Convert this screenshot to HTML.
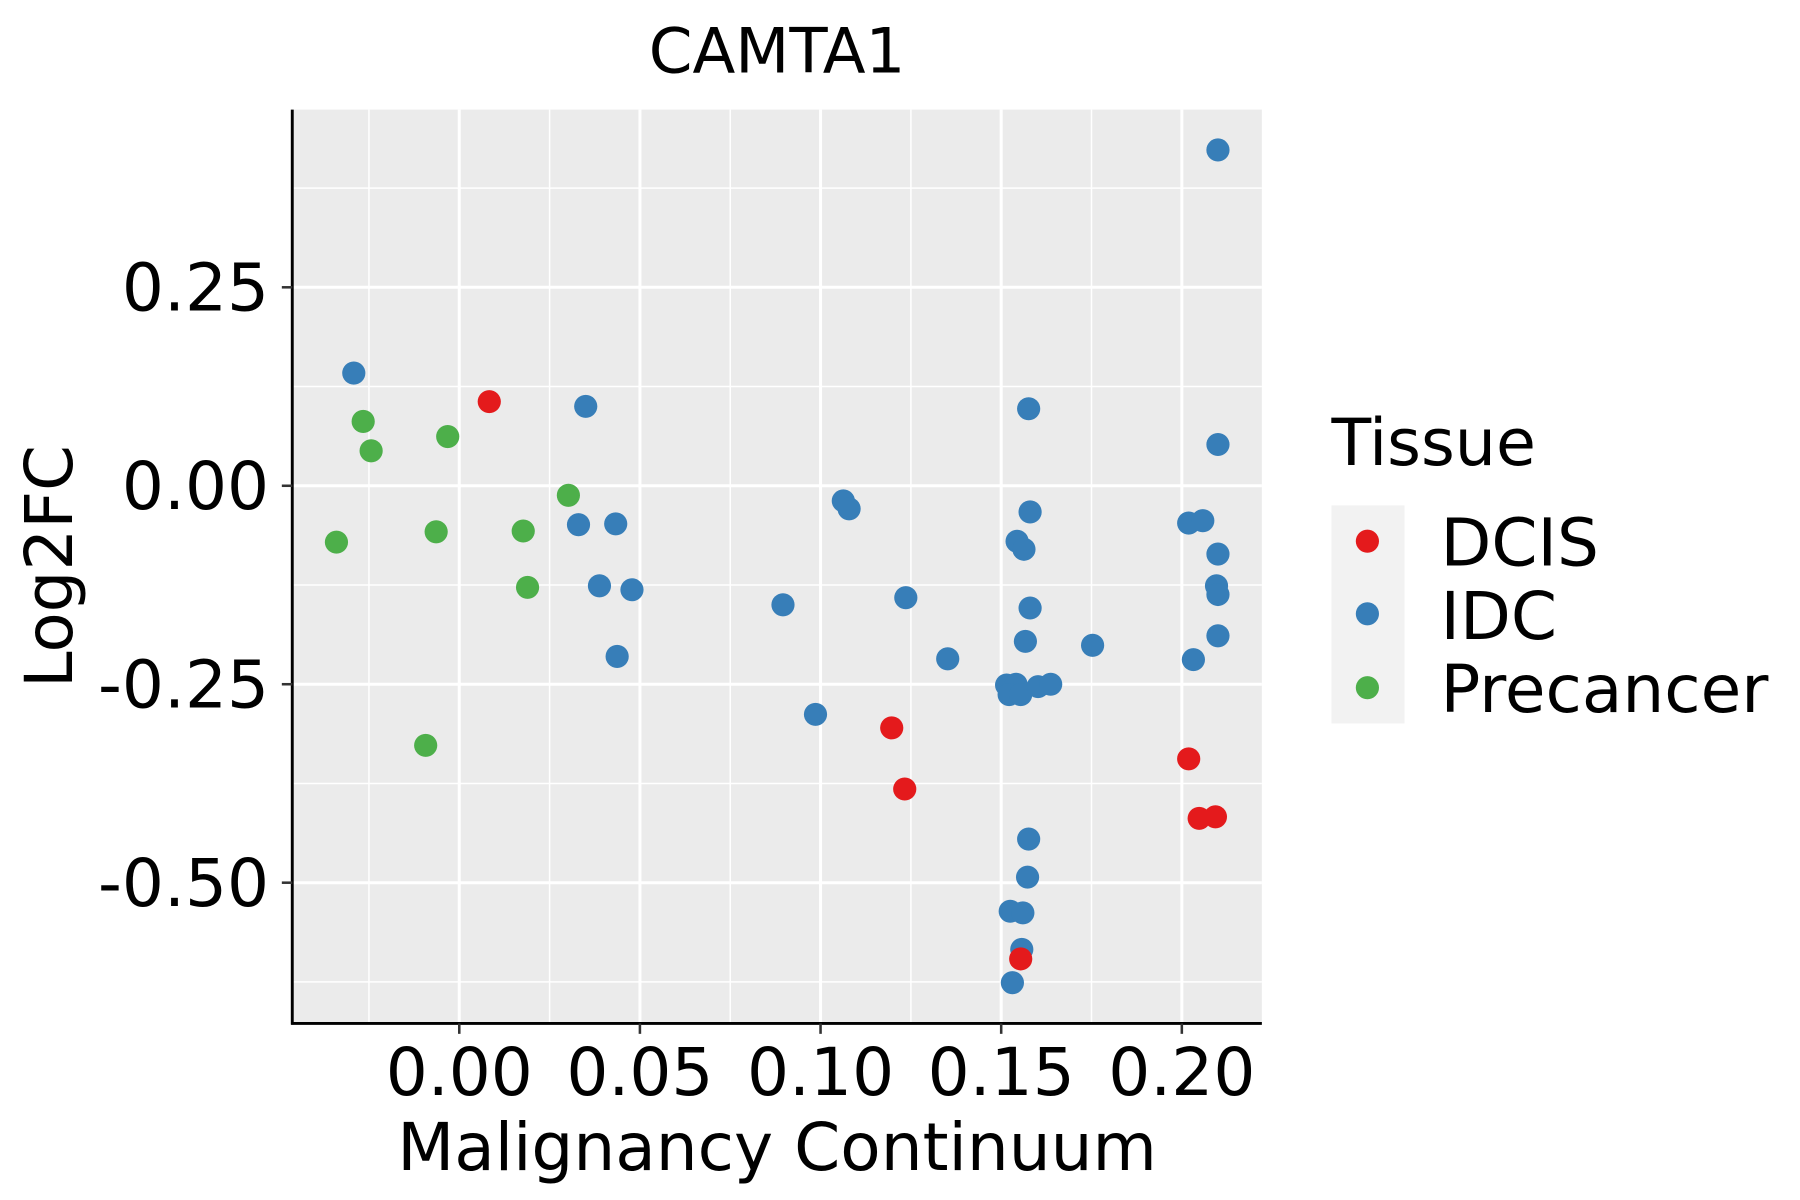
<!DOCTYPE html>
<html><head><meta charset="utf-8"><style>
html,body{margin:0;padding:0;background:#fff;}
svg{display:block;font-family:"DejaVu Sans","Liberation Sans",sans-serif;}
</style></head><body>
<svg id="chart" width="1800" height="1200" viewBox="0 0 1552 1040" preserveAspectRatio="none" xmlns="http://www.w3.org/2000/svg">
<text x="670" y="63" font-size="54" text-anchor="middle">CAMTA1</text>
<rect x="252" y="95" width="836" height="792" fill="#EBEBEB"/>
<g id="grid"></g>
<g id="points"></g>
<line x1="252" y1="95" x2="252" y2="888" stroke="#000" stroke-width="2.5"/>
<line x1="251" y1="887" x2="1088" y2="887" stroke="#000" stroke-width="2.5"/>
<g id="axes"></g>
<text x="670" y="1014" font-size="57" text-anchor="middle">Malignancy Continuum</text>
<text transform="translate(62,491) rotate(-90)" font-size="57" text-anchor="middle">Log2FC</text>
<g>
<text x="1148" y="403" font-size="56">Tissue</text>
<rect x="1148" y="438" width="63" height="189" fill="#F2F2F2"/>
<circle cx="1179" cy="469" r="10" fill="#E41A1C"/>
<circle cx="1179" cy="532" r="10" fill="#377EB8"/>
<circle cx="1179" cy="596" r="10" fill="#4DAF4A"/>
<text x="1242" y="490" font-size="57">DCIS</text>
<text x="1242" y="554" font-size="57">IDC</text>
<text x="1242" y="617" font-size="57">Precancer</text>
</g>
</svg>
<script>
const xTicks=[0,0.05,0.10,0.15,0.20];
const xTickLabels=["0.00","0.05","0.10","0.15","0.20"];
const yTicks=[0.25,0,-0.25,-0.5];
const yTickLabels=["0.25","0.00","-0.25","-0.50"];
const idcX=[-0.0292,0.035,0.033,0.0433,0.0388,0.0478,0.0437,0.0896,0.0986,0.1063,0.1079,0.1236,0.1352,0.1576,0.158,0.1544,0.1563,0.158,0.1567,0.1515,0.1541,0.1522,0.1554,0.1602,0.1637,0.1753,0.1576,0.1573,0.1525,0.156,0.1557,0.1531,0.210,0.210,0.2019,0.2058,0.210,0.2096,0.210,0.210,0.2032];
const idcY=[0.142,0.100,-0.049,-0.048,-0.126,-0.131,-0.215,-0.150,-0.288,-0.019,-0.029,-0.141,-0.218,0.097,-0.033,-0.070,-0.080,-0.154,-0.196,-0.251,-0.250,-0.263,-0.263,-0.253,-0.250,-0.201,-0.445,-0.493,-0.536,-0.538,-0.584,-0.626,0.423,0.052,-0.047,-0.044,-0.086,-0.126,-0.137,-0.189,-0.219];
const dcisX=[0.0083,0.1197,0.1233,0.1554,0.2019,0.2048,0.2093];
const dcisY=[0.106,-0.305,-0.382,-0.596,-0.344,-0.419,-0.417];
const preX=[-0.034,-0.0266,-0.0244,-0.0032,-0.0064,-0.0093,0.0177,0.0189,0.0302];
const preY=[-0.071,0.081,0.044,0.062,-0.058,-0.327,-0.057,-0.128,-0.012];
const NS="http://www.w3.org/2000/svg";
const sx=v=>396+v*3115;
const sy=v=>421-v*688;
const grid=document.getElementById('grid'),axes=document.getElementById('axes'),pts=document.getElementById('points');
function mk(tag,attrs,parent){const e=document.createElementNS(NS,tag);for(const k in attrs)e.setAttribute(k,attrs[k]);parent.appendChild(e);return e;}
for(let i=-1;i<xTicks.length;i++){const v=(i<0?xTicks[0]-0.025:xTicks[i]+0.025);const x=sx(v);if(x<252||x>1088)continue;
 const l=mk('line',{x1:x,x2:x,y1:95,y2:887,stroke:'#fff','stroke-width':1.3},grid);
 
 }
for(let i=-1;i<yTicks.length;i++){const v=(i<0?yTicks[0]+0.125:yTicks[i]-0.125);const y=sy(v);if(y<95||y>887)continue;
 const l=mk('line',{x1:252,x2:1088,y1:y,y2:y,stroke:'#fff','stroke-width':1.3},grid);
 
 }
xTicks.forEach((v,i)=>{const x=sx(v);
 const g=mk('line',{x1:x,x2:x,y1:95,y2:887,stroke:'#fff','stroke-width':2.6},grid);
 
 
 const t=mk('line',{x1:x,x2:x,y1:887,y2:896,stroke:'#333','stroke-width':2.2},axes);
 
 
 const tx=mk('text',{x:x,y:949,'font-size':57,'text-anchor':'middle',fill:'#000'},axes);tx.textContent=xTickLabels[i];
 
 });
yTicks.forEach((v,i)=>{const y=sy(v);
 const g=mk('line',{x1:252,x2:1088,y1:y,y2:y,stroke:'#fff','stroke-width':2.6},grid);
 
 
 const t=mk('line',{x1:243,x2:252,y1:y,y2:y,stroke:'#333','stroke-width':2.2},axes);
 
 
 const tx=mk('text',{x:232,y:y+20,'font-size':57,'text-anchor':'end',fill:'#000'},axes);tx.textContent=yTickLabels[i];
 
 });
function series(xs,ys,color,name){xs.forEach((v,i)=>{const c=mk('circle',{cx:sx(v),cy:sy(ys[i]),r:10,fill:color},pts);
 
 });}
series(preX,preY,'#4DAF4A','point-precancer');
series(idcX,idcY,'#377EB8','point-idc');
series(dcisX,dcisY,'#E41A1C','point-dcis');
</script>
</body></html>
